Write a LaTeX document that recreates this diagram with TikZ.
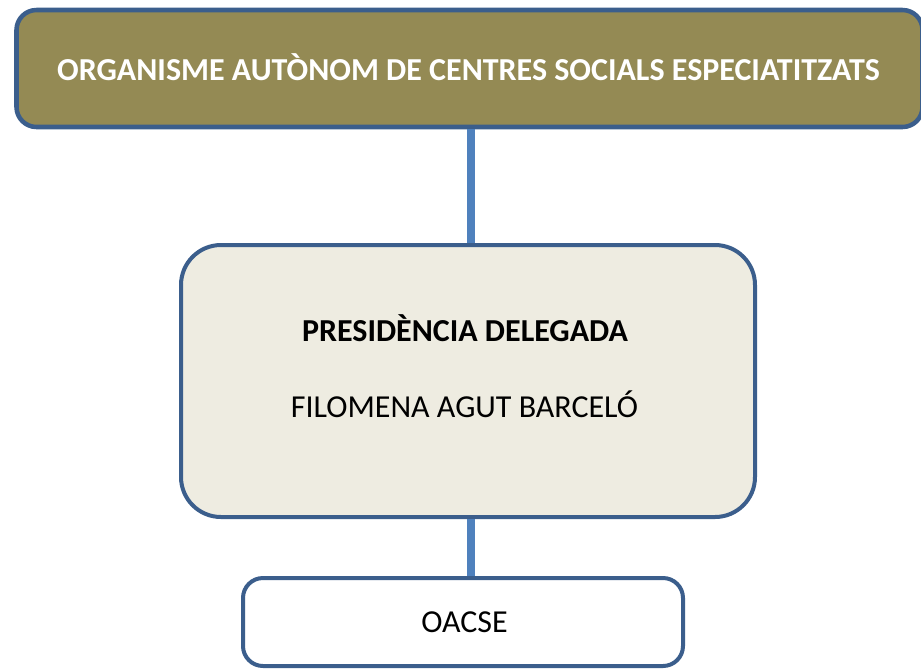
\documentclass[tikz,border=0pt]{standalone}
\usepackage{fontspec}
\setmainfont{Carlito}
\definecolor{olivebox}{RGB}{148,138,84}
\definecolor{framebox}{RGB}{59,94,140}
\definecolor{linkblue}{RGB}{79,129,189}
\definecolor{paperbox}{RGB}{238,236,225}
\tikzset{every picture/.style={line width=0.75pt}}
\tikzset{
  orgbox/.style={draw=framebox, line width=3.4pt, rounded corners=15pt, inner sep=0pt},
  link/.style={draw=linkblue, line width=6pt},
  label/.style={inner sep=0.75pt, anchor=base, font=\fontsize{24}{28}\selectfont}
}

\begin{document}
\begin{tikzpicture}[x=0.75pt,y=0.75pt,yscale=-1,xscale=1]
\useasboundingbox (0,0) rectangle (921,669);

%Shape: Rounded Rectangle [id:organisme] 
\node [orgbox, fill=olivebox, minimum width=679.5pt, minimum height=87.75pt] (organisme) at (469.5,68.5) {};
%Shape: Rounded Rectangle [id:presidencia] 
\node [orgbox, fill=paperbox, rounded corners=30pt, line width=3pt, minimum width=430.5pt, minimum height=204pt] (presidencia) at (468,381) {};
%Shape: Rounded Rectangle [id:oacse] 
\node [orgbox, fill=white, line width=3pt, minimum width=330pt, minimum height=66pt] (oacse) at (463,622) {};

%Straight Lines [id:organisme-presidencia] 
\draw [link] (organisme.south -| 471,0) -- (presidencia.north -| 471,0) ;
%Straight Lines [id:presidencia-oacse] 
\draw [link] (presidencia.south -| 471,0) -- (oacse.north -| 471,0) ;

% Text Node
\node [label, text=white, font=\fontsize{24}{28}\selectfont\bfseries] (titol) at (468.5,80) {ORGANISME AUTÒNOM DE CENTRES SOCIALS ESPECIATITZATS};
% Text Node
\node [label, font=\fontsize{24}{28}\selectfont\bfseries] (carrec) at (465,341) {PRESIDÈNCIA DELEGADA};
% Text Node
\node [label] (nom) at (464.5,417) {FILOMENA AGUT BARCELÓ};
% Text Node
\node [label] (sigles) at (464.5,632) {OACSE};

\end{tikzpicture}
\end{document}
